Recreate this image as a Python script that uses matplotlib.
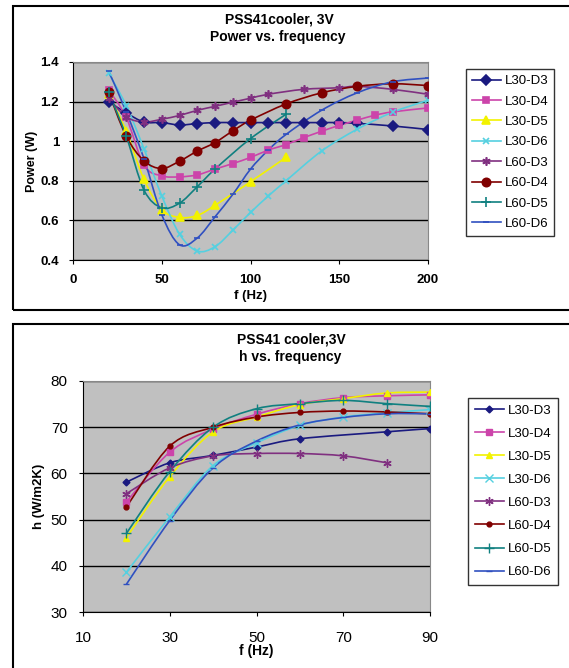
import matplotlib as mpl
mpl.use('Agg')
import matplotlib.pyplot as plt
import numpy as np
from matplotlib.path import Path
from matplotlib.patches import PathPatch, Rectangle

plt.rcParams['font.family'] = ['Liberation Sans', 'DejaVu Sans']

# ---- data: power vs frequency ----
labels = ['L30-D3', 'L30-D4', 'L30-D5', 'L30-D6', 'L60-D3', 'L60-D4', 'L60-D5', 'L60-D6']

p_l30d3_f = [20, 30, 40, 50, 60, 70, 80, 90, 100, 110, 120, 130, 140, 150, 160, 180, 200]
p_l30d3 = [1.20, 1.143, 1.097, 1.094, 1.082, 1.089, 1.094, 1.094, 1.094, 1.094, 1.094, 1.094, 1.094, 1.094, 1.09, 1.077, 1.059]
p_l30d4_f = [20, 30, 40, 50, 60, 70, 80, 90, 100, 110, 120, 130, 140, 150, 160, 170, 180, 200]
p_l30d4 = [1.26, 1.12, 0.879, 0.825, 0.82, 0.83, 0.859, 0.887, 0.918, 0.955, 0.983, 1.018, 1.05, 1.08, 1.106, 1.131, 1.148, 1.168]
p_l30d5_f = [20, 30, 40, 50, 60, 70, 80, 100, 120]
p_l30d5 = [1.24, 1.05, 0.807, 0.655, 0.615, 0.625, 0.676, 0.795, 0.918]
p_l30d6_f = [20, 30, 40, 50, 60, 70, 80, 90, 100, 110, 120, 140, 160, 180, 200]
p_l30d6 = [1.345, 1.18, 0.961, 0.724, 0.531, 0.445, 0.467, 0.55, 0.64, 0.723, 0.80, 0.95, 1.06, 1.146, 1.207]
p_l60d3_f = [20, 30, 40, 50, 60, 70, 80, 90, 100, 110, 130, 150, 160, 180, 200]
p_l60d3 = [1.218, 1.123, 1.097, 1.111, 1.13, 1.156, 1.176, 1.197, 1.217, 1.237, 1.262, 1.27, 1.277, 1.262, 1.237]
p_l60d4_f = [20, 30, 40, 50, 60, 70, 80, 90, 100, 120, 140, 160, 180, 200]
p_l60d4 = [1.249, 1.025, 0.901, 0.862, 0.899, 0.95, 0.993, 1.052, 1.106, 1.188, 1.244, 1.277, 1.29, 1.281]
p_l60d5_f = [20, 30, 40, 50, 60, 70, 80, 100, 120]
p_l60d5 = [1.249, 1.025, 0.753, 0.664, 0.687, 0.77, 0.859, 1.013, 1.136]
p_l60d6_f = [20, 30, 40, 50, 60, 70, 80, 90, 100, 110, 120, 140, 160, 180, 200]
p_l60d6 = [1.355, 1.148, 0.911, 0.629, 0.477, 0.511, 0.618, 0.731, 0.859, 0.955, 1.034, 1.156, 1.244, 1.30, 1.319]

# ---- data: h vs frequency ----
h_f = [20, 30, 40, 50, 60, 70, 80, 90]
h_l30d3_f = [20, 30, 40, 50, 60, 80, 90]
h_l30d3 = [58.1, 62.3, 63.9, 65.7, 67.5, 69.0, 69.7]
h_l30d4 = [53.8, 64.6, 69.6, 72.8, 75.1, 76.4, 76.8, 77.0]
h_l30d5 = [46.1, 59.3, 69.0, 72.2, 74.9, 76.2, 77.4, 77.6]
h_l30d6 = [38.6, 50.6, 61.7, 66.6, 70.4, 72.2, 73.1, 73.8]
h_l60d3_f = [20, 30, 40, 50, 60, 70, 80]
h_l60d3 = [55.6, 61.2, 63.8, 64.3, 64.3, 63.8, 62.3]
h_l60d4 = [52.7, 65.9, 70.0, 72.2, 73.2, 73.5, 73.3, 72.9]
h_l60d5 = [47.0, 60.4, 70.0, 74.0, 75.1, 75.8, 75.1, 74.5]
h_l60d6 = [36.0, 49.8, 61.2, 67.0, 70.5, 72.1, 72.9, 72.9]

colors = ['#1a1a80', '#cc44aa', '#f2f200', '#55d0e0', '#803080', '#800000', '#108080', '#3050c0']
markers = ['D', 's', '^', 'x', (6, 2, 0), 'o', '+', '_']


def smooth(ax, x, y, color, lw):
    # Excel-style smoothed line: cubic bezier through the points
    p = np.column_stack([x, y]).astype(float)
    n = len(p)
    verts = [p[0]]
    codes = [Path.MOVETO]
    for i in range(n - 1):
        p0 = p[i - 1] if i > 0 else p[i]
        p3 = p[i + 2] if i + 2 < n else p[i + 1]
        c1 = p[i] + (p[i + 1] - p0) / 6
        c2 = p[i + 1] - (p3 - p[i]) / 6
        verts += [c1, c2, p[i + 1]]
        codes += [Path.CURVE4] * 3
    ax.add_patch(PathPatch(Path(verts, codes), fill=False, ec=color, lw=lw, zorder=3))


fig = plt.figure(figsize=(5.69, 6.68), dpi=100)
W, H = 569, 668
for (x0, y0, x1, y1) in [(13, 6, 580, 310), (13, 324, 580, 690)]:
    fig.patches.append(Rectangle((x0 / W, 1 - y1 / H), (x1 - x0) / W, (y1 - y0) / H,
                                 transform=fig.transFigure, fill=False, ec='black', lw=1.5))

# ===== top: power =====
ax1 = fig.add_axes([73 / W, 1 - 260 / H, 355 / W, 198 / H])
ax1.set_facecolor('#c0c0c0')
pdata = [(p_l30d3_f, p_l30d3), (p_l30d4_f, p_l30d4), (p_l30d5_f, p_l30d5), (p_l30d6_f, p_l30d6),
         (p_l60d3_f, p_l60d3), (p_l60d4_f, p_l60d4), (p_l60d5_f, p_l60d5), (p_l60d6_f, p_l60d6)]
msz = [5, 4, 6, 5, 6, 6, 7, 5]
for (x, y), lab, c, m, ms in zip(pdata, labels, colors, markers, msz):
    smooth(ax1, x, y, c, 1.2)
    ax1.plot(x, y, ls='none', marker=m, color=c, ms=ms, mew=1.2, zorder=4)
    ax1.plot([], [], color=c, marker=m, ms=ms, mew=1.2, lw=1.2, label=lab)
ax1.set_xlim(0, 200); ax1.set_ylim(0.4, 1.4)
ax1.set_xticks([0, 50, 100, 150, 200]); ax1.set_yticks([0.4, 0.6, 0.8, 1, 1.2, 1.4])
ax1.set_yticklabels(['0.4', '0.6', '0.8', '1', '1.2', '1.4'])
ax1.grid(axis='y', color='black', lw=1)
ax1.set_axisbelow(True)
for s in ['top', 'right']:
    ax1.spines[s].set_color('#888888')
ax1.tick_params(direction='out', length=3, labelsize=9.5, pad=7)
for t in ax1.get_xticklabels() + ax1.get_yticklabels():
    t.set_fontweight('bold')
ax1.set_xlabel('f (Hz)', fontsize=9.5, fontweight='bold', labelpad=3)
ax1.set_ylabel('Power (W)', fontsize=9, fontweight='bold', labelpad=2)
fig.text(279 / W, 1 - 20 / H, 'PSS41cooler, 3V', ha='center', va='center', fontsize=10, fontweight='bold')
fig.text(278 / W, 1 - 37.5 / H, 'Power vs. frequency', ha='center', va='center', fontsize=10, fontweight='bold')
ax1.legend(loc='upper left', bbox_to_anchor=(466 / W, 1 - 69 / H), bbox_transform=fig.transFigure,
           fontsize=9.5, frameon=True, fancybox=False, edgecolor='black', handlelength=2.2,
           labelspacing=0.62, borderpad=0.45, handletextpad=0.3, borderaxespad=0)

# ===== bottom: h =====
ax2 = fig.add_axes([83 / W, 1 - 612 / H, 347 / W, 231 / H])
ax2.set_facecolor('#c0c0c0')
hdata = [(h_l30d3_f, h_l30d3), (h_f, h_l30d4), (h_f, h_l30d5), (h_f, h_l30d6),
         (h_l60d3_f, h_l60d3), (h_f, h_l60d4), (h_f, h_l60d5), (h_f, h_l60d6)]
msz2 = [3.5, 4, 5, 6, 6, 3.5, 7, 5]
for (x, y), lab, c, m, ms in zip(hdata, labels, colors, markers, msz2):
    smooth(ax2, x, y, c, 1.2)
    ax2.plot(x, y, ls='none', marker=m, color=c, ms=ms, mew=1.0, zorder=4, clip_on=True)
    ax2.plot([], [], color=c, marker=m, ms=ms, mew=1.0, lw=1.2, label=lab)
ax2.set_xlim(10, 90); ax2.set_ylim(30, 80)
ax2.set_xticks([10, 30, 50, 70, 90]); ax2.set_yticks([30, 40, 50, 60, 70, 80])
ax2.grid(axis='y', color='black', lw=1)
ax2.set_axisbelow(True)
for s in ['top', 'right']:
    ax2.spines[s].set_color('#888888')
ax2.tick_params(axis='x', direction='out', length=3, labelsize=11, pad=11)
ax2.tick_params(axis='y', direction='out', length=3, labelsize=11, pad=8)
ax2.set_xlabel('f (Hz)', fontsize=10, fontweight='bold', va='top')
ax2.xaxis.set_label_coords(0.5, -(644 - 612) / 231)
ax2.set_ylabel('h (W/m2K)', fontsize=9.5, fontweight='bold', labelpad=4)
fig.text(291 / W, 1 - 339 / H, 'PSS41 cooler,3V', ha='center', va='center', fontsize=10, fontweight='bold')
fig.text(290 / W, 1 - 357 / H, 'h vs. frequency', ha='center', va='center', fontsize=10, fontweight='bold')
ax2.legend(loc='upper left', bbox_to_anchor=(468 / W, 1 - 398 / H), bbox_transform=fig.transFigure,
           fontsize=9.5, frameon=True, fancybox=False, edgecolor='black', handlelength=2.2,
           labelspacing=0.82, borderpad=0.5, handletextpad=0.3, borderaxespad=0)

plt.savefig('out.png', dpi=100)
plt.close()
